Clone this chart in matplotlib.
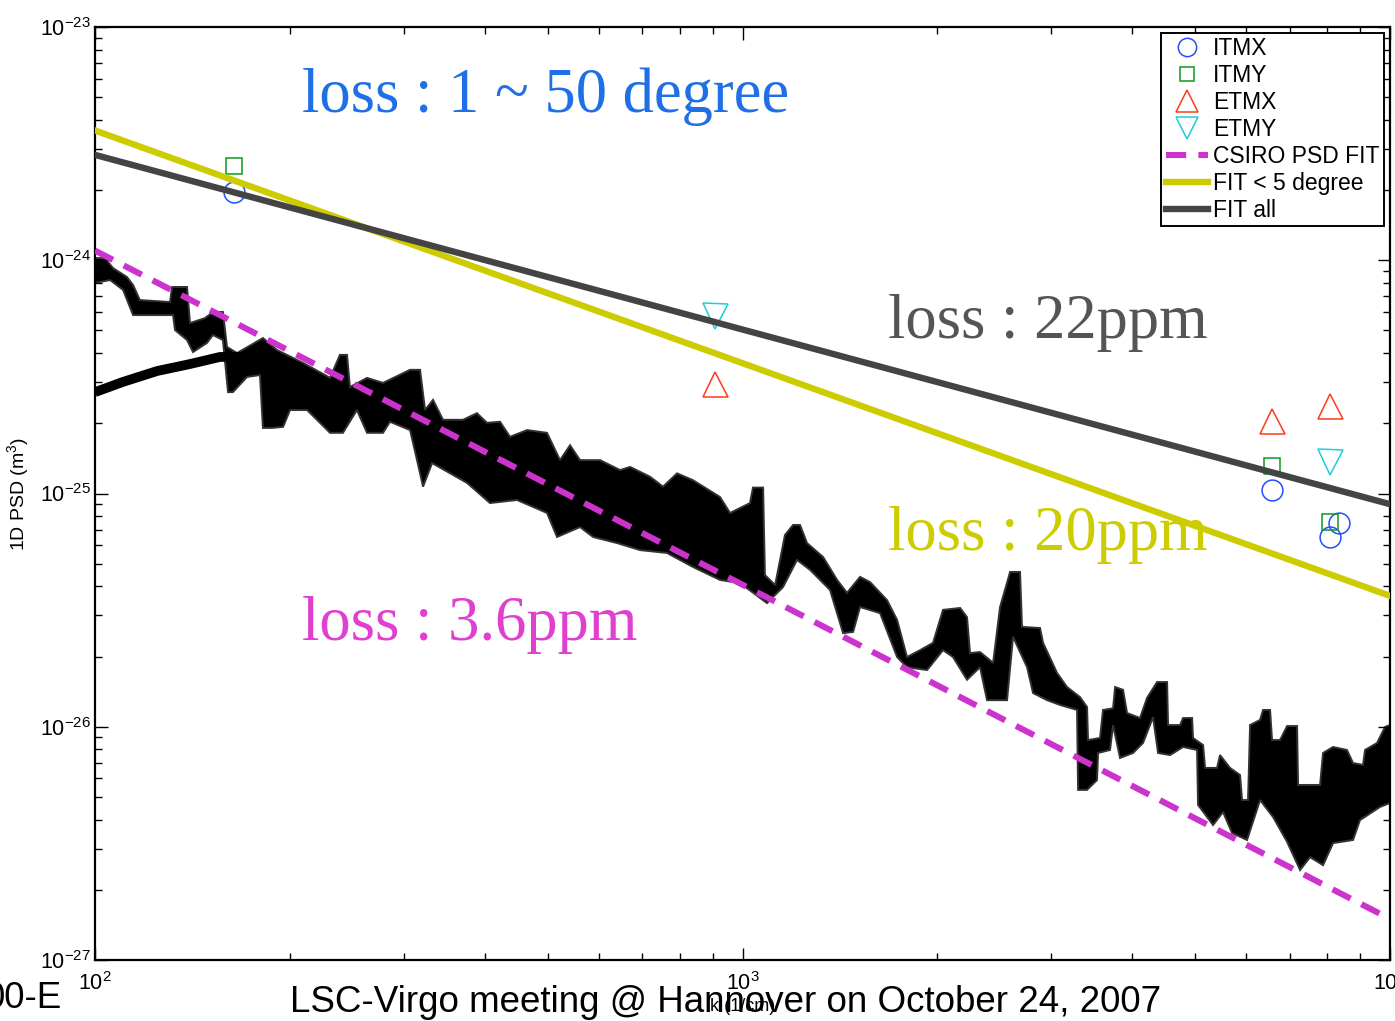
import numpy as np
import matplotlib
matplotlib.use("Agg")
import matplotlib.pyplot as plt
from matplotlib.ticker import LogLocator, NullFormatter

plt.rcParams["font.family"] = ["Liberation Sans", "DejaVu Sans"]
plt.rcParams["mathtext.default"] = "regular"

# ---- measured 1D PSD band (upper / lower edge), k in 1/cm, PSD in 1e-26 m^3 ----
k_hi = [100, 103.6, 106.6, 112.0, 114.5, 117.3, 130.6, 131.5, 138.7, 140.2,
        147.9, 152.1, 157.6, 159.9, 165.7, 181.7, 191.1, 209.6, 230.7, 238.9,
        245.0, 247.6, 263.1, 278.5, 306.6, 317.7, 323.4, 332.7, 344.7, 370.2,
        388.9, 403.0, 422.2, 437.5, 464.8, 499.0, 522.6, 541.6, 561.2, 602.6,
        647.1, 670.5, 719.7, 753.8, 792.3, 838.7, 923.2, 956.6, 1027, 1038,
        1076, 1083, 1123, 1163, 1197, 1227, 1258, 1332, 1400, 1450,
        1519, 1574, 1672, 1733, 1795, 1880, 1969, 2040, 2168, 2222,
        2246, 2327, 2438, 2499, 2590, 2683, 2702, 2881, 2912, 3061,
        3171, 3321, 3405, 3417, 3566, 3604, 3735, 3762, 3870, 3926,
        4111, 4215, 4368, 4526, 4542, 4740, 4791, 4947, 4964, 5144,
        5181, 5406, 5464, 5662, 5867, 5909, 6036, 6080, 6300, 6367,
        6528, 6574, 6764, 6935, 7186, 7211, 7798, 7882, 8167, 8582,
        8768, 9085, 9150, 9549, 9823, 10000]
psd_hi = [102.2, 102.2, 92.6, 84.8, 78.3, 67.5, 66.2, 76.8, 76.8, 53.8,
          56.5, 60.0, 60.0, 42.5, 40.0, 46.4, 41.2, 36.3, 31.3, 39.3,
          39.3, 28.6, 31.3, 29.8, 33.9, 33.9, 22.8, 25.2, 20.7, 20.7,
          22.1, 20.1, 20.3, 17.5, 18.7, 18.2, 13.9, 16.1, 13.9, 13.9,
          12.6, 13.0, 11.8, 10.7, 12.2, 11.4, 9.66, 8.25, 9.10, 10.6,
          10.6, 4.47, 4.05, 6.64, 7.33, 7.33, 6.13, 5.34, 4.26, 3.75,
          4.39, 4.17, 3.49, 2.87, 1.99, 2.13, 2.29, 3.17, 3.23, 2.95,
          2.07, 2.09, 1.88, 3.26, 4.61, 4.61, 2.68, 2.65, 2.29, 1.70,
          1.48, 1.34, 1.215, 0.877, 0.895, 1.18, 1.20, 1.48, 1.44, 1.145,
          1.09, 1.33, 1.555, 1.555, 1.017, 1.017, 1.09, 1.09, 0.895, 0.835,
          0.666, 0.666, 0.756, 0.666, 0.621, 0.485, 0.485, 1.017, 1.07, 1.18,
          1.18, 0.877, 0.877, 1.007, 1.007, 0.563, 0.563, 0.772, 0.819, 0.795,
          0.699, 0.686, 0.795, 0.852, 0.9975, 1.017]

k_lo = [100, 105.5, 110.5, 114.5, 132.0, 132.9, 138.7, 141.7, 148.9, 152.1,
        157.6, 160.5, 163.3, 171.7, 179.8, 181.7, 187.7, 195.2, 200.1, 212.6,
        230.7, 241.5, 253.8, 263.1, 278.5, 285.5, 306.6, 314.3, 321.1, 331.6,
        375.5, 407.4, 448.5, 499.0, 517.1, 561.2, 587.8, 640.2, 694.6, 764.6,
        838.7, 923.2, 991.2, 1091, 1155, 1214, 1272, 1365, 1430, 1482,
        1519, 1631, 1733, 1795, 1928, 2040, 2114, 2222, 2327, 2386,
        2562, 2617, 2751, 2810, 2954, 3093, 3286, 3298, 3405, 3528,
        3541, 3695, 3735, 3829, 4010, 4155, 4306, 4383, 4574, 4791,
        5035, 5053, 5330, 5523, 5703, 6015, 6300, 6598, 6935, 7263,
        7526, 7882, 8167, 8768, 8989, 9651, 10000]
psd_lo = [79.9, 82.3, 74.6, 58.2, 58.2, 50.2, 45.5, 40.4, 44.2, 47.8,
          45.5, 27.2, 27.2, 31.6, 32.2, 19.1, 19.1, 19.3, 22.8, 22.8,
          18.2, 18.2, 22.8, 18.2, 18.2, 20.3, 18.7, 13.9, 10.7, 13.5,
          11.1, 9.10, 9.38, 8.25, 6.51, 7.18, 6.51, 6.13, 5.72, 5.56,
          4.84, 4.26, 4.13, 3.39, 3.97, 5.19, 4.70, 3.86, 2.52, 2.55,
          3.26, 3.07, 1.99, 1.80, 1.75, 2.13, 1.99, 1.59, 1.80, 1.30,
          1.30, 2.43, 1.80, 1.395, 1.30, 1.24, 1.18, 0.536, 0.536, 0.591,
          0.772, 0.795, 1.017, 0.735, 0.772, 0.852, 1.10, 0.772, 0.756, 0.819,
          0.795, 0.462, 0.379, 0.431, 0.350, 0.327, 0.485, 0.410, 0.321, 0.243,
          0.276, 0.255, 0.317, 0.327, 0.398, 0.453, 0.471]

# low-k branch of the measured spectrum
k_branch = [100, 110.5, 124.7, 140.2, 156.0, 170.4, 195.2]
psd_branch = [27.2, 30.1, 33.5, 35.9, 38.5, 38.5, 36.6]

# ---- mirror map points ----
itmx_k = [164, 6577, 8074, 8340]
itmx_psd = [1.96e-24, 1.035e-25, 6.5e-26, 7.5e-26]
itmy_k = [164, 6577, 8074]
itmy_psd = [2.54e-24, 1.31e-25, 7.55e-26]
etmx_k = [907, 6577, 8074]
etmx_psd = [2.94e-25, 2.05e-25, 2.37e-25]
etmy_k = [907, 8074]
etmy_psd = [5.77e-25, 1.36e-25]

# ---- power-law fits (end points over the plotted k range) ----
fit_k = [100, 10000]
csiro_fit = [1.1e-24, 1.5e-27]
fit_5deg = [3.6e-24, 3.64e-26]
fit_all = [2.83e-24, 9.0e-26]

SCALE = 1e-26

fig = plt.figure(figsize=(13.95, 10.21), dpi=100)
ax = fig.add_axes([95 / 1395, 1 - 960 / 1021, 1295 / 1395, 933 / 1021])
ax.set_xscale("log")
ax.set_yscale("log")

band_k = list(k_hi) + list(k_lo[::-1])
band_p = [v * SCALE for v in list(psd_hi) + list(psd_lo[::-1])]
ax.fill(band_k, band_p, facecolor="black", edgecolor="#333333", linewidth=1.4, zorder=1)
ax.plot(k_branch, [v * SCALE for v in psd_branch], color="black", lw=7,
        solid_capstyle="butt", zorder=1)

mkw = dict(linestyle="none", markerfacecolor="none", markeredgewidth=1.1, zorder=3)
ax.plot(itmx_k, itmx_psd, marker="o", ms=15, markeredgecolor="#2050FF", label="ITMX", **mkw)
ax.plot(itmy_k, itmy_psd, marker="s", ms=11.5, markeredgecolor="#0E9A1E", label="ITMY", **mkw)
ax.plot(etmx_k, etmx_psd, marker="^", ms=18, markeredgecolor="#FF3A1A", label="ETMX", **mkw)
ax.plot(etmy_k, etmy_psd, marker="v", ms=18, markeredgecolor="#1CCFD8", label="ETMY", **mkw)

ax.plot(fit_k, csiro_fit, color="#CC33CC", lw=4.4, linestyle=(0, (3.3, 2.0)),
        dash_capstyle="butt", label="CSIRO PSD FIT", zorder=4)
ax.plot(fit_k, fit_5deg, color="#CCCC00", lw=4.6, label="FIT < 5 degree", zorder=4)
ax.plot(fit_k, fit_all, color="#444444", lw=4.6, label="FIT all", zorder=5)

ax.set_xlim(100, 10000)
ax.set_ylim(1e-27, 1e-23)

for s in ax.spines.values():
    s.set_linewidth(1.6)
ax.tick_params(which="both", direction="in", top=True, right=True, width=1.0, colors="black")
ax.tick_params(which="major", length=9, labelsize=15.5)
ax.tick_params(which="minor", length=5)
ax.tick_params(axis="x", which="major", pad=9)
ax.tick_params(axis="y", which="major", pad=3)
ax.xaxis.set_minor_locator(LogLocator(base=10, subs=np.arange(2, 10), numticks=20))
ax.yaxis.set_minor_locator(LogLocator(base=10, subs=np.arange(2, 10), numticks=20))
ax.xaxis.set_minor_formatter(NullFormatter())
ax.yaxis.set_minor_formatter(NullFormatter())

ax.set_ylabel("1D PSD (m$^3$)", fontsize=14, labelpad=6)
ax.set_xlabel("k (1/cm)", fontsize=13, labelpad=2)

leg = ax.legend(loc="upper right", fontsize=16.5, frameon=True, fancybox=False,
                edgecolor="black", framealpha=1, borderaxespad=0.25,
                handlelength=1.85, handletextpad=0.22, labelspacing=0.17,
                borderpad=0.2, numpoints=1, markerscale=0.88)
leg.get_frame().set_linewidth(1.4)

serif = ["Liberation Serif", "DejaVu Serif"]
ax.text(0.160, 0.909, "loss : 1 ~ 50 degree", transform=ax.transAxes, color="#1F6FE6",
        fontsize=45, family=serif, va="baseline")
ax.text(0.612, 0.667, "loss : 22ppm", transform=ax.transAxes, color="#555555",
        fontsize=45, family=serif, va="baseline")
ax.text(0.612, 0.4394, "loss : 20ppm", transform=ax.transAxes, color="#CCCC00",
        fontsize=45, family=serif, va="baseline")
ax.text(0.160, 0.343, "loss : 3.6ppm", transform=ax.transAxes, color="#E040D0",
        fontsize=45, family=serif, va="baseline")

fig.text(290 / 1395, 1 - 1012 / 1021, "LSC-Virgo meeting @ Hannover on October 24, 2007",
         fontsize=26.5, ha="left", va="baseline")
fig.text(62 / 1395, 1 - 1008 / 1021, "00-E", fontsize=26.5, ha="right", va="baseline")

fig.savefig("out.png", dpi=100)
